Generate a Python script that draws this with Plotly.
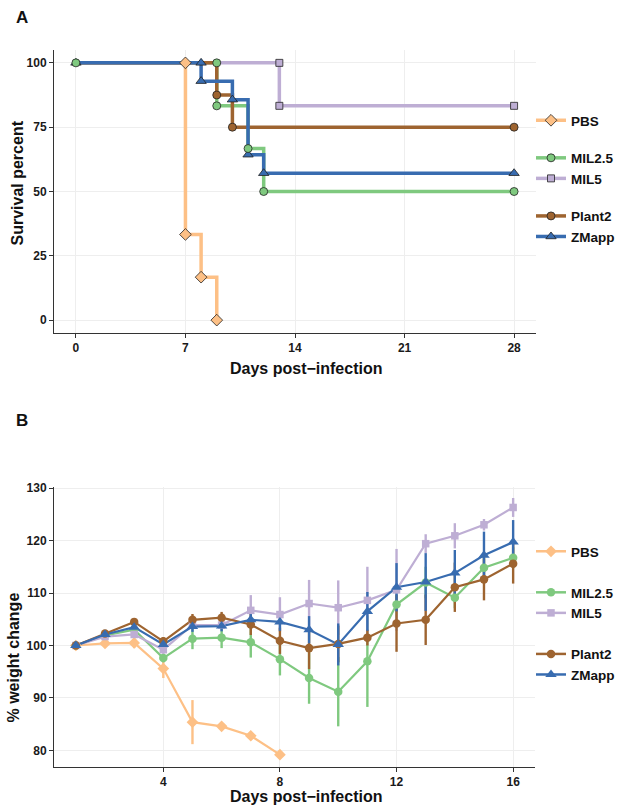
import plotly.graph_objects as go

W, H = 624, 812
def fx(px): return px / W
def fy(py): return 1 - py / H

series = ["PBS", "MIL2.5", "MIL5", "Plant2", "ZMapp"]
colors = {"PBS": "#FDC086", "MIL2.5": "#7FC97F", "MIL5": "#BEAED4", "Plant2": "#9E6430", "ZMapp": "#386CB0"}
symbols = {"PBS": "diamond", "MIL2.5": "circle", "MIL5": "square", "Plant2": "circle", "ZMapp": "triangle-up"}
groups = {"PBS": "g1", "MIL2.5": "g2", "MIL5": "g2", "Plant2": "g3", "ZMapp": "g3"}

# ---- Panel A: survival (step data) ----
surv_time = {
    "PBS":    [0, 7, 8, 9],
    "MIL2.5": [0, 9, 11, 12, 28],
    "MIL5":   [0, 13, 28],
    "Plant2": [0, 9, 10, 28],
    "ZMapp":  [0, 8, 10, 11, 12, 28],
}
surv_pct = {
    "PBS":    [100, 33.3, 16.7, 0],
    "MIL2.5": [100, 83.3, 66.7, 50, 50],
    "MIL5":   [100, 83.3, 83.3],
    "Plant2": [100, 87.5, 75, 75],
    "ZMapp":  [100, 92.9, 85.7, 64.3, 57.1, 57.1],
}
# plotted symbols on survival curves
surv_pt_time = {
    "PBS":    [7, 7, 8, 9],
    "MIL2.5": [0, 9, 9, 11, 12, 28],
    "MIL5":   [13, 13, 28],
    "Plant2": [9, 10, 28],
    "ZMapp":  [0, 8, 8, 10, 11, 12, 28],
}
surv_pt_pct = {
    "PBS":    [100, 33.3, 16.7, 0],
    "MIL2.5": [100, 100, 83.3, 66.7, 50, 50],
    "MIL5":   [100, 83.3, 83.3],
    "Plant2": [87.5, 75, 75],
    "ZMapp":  [100, 100, 92.9, 85.7, 64.3, 57.1, 57.1],
}

# ---- Panel B: weight change ----
days = list(range(1, 17))
weight = {
    "PBS":    [100, 100.4, 100.5, 95.6, 85.4, 84.6, 82.8, 79.2],
    "MIL2.5": [100, 101.9, 103.0, 97.6, 101.3, 101.5, 100.6, 97.4, 93.8, 91.2, 97.0, 107.8, 112.0, 109.1, 114.8, 116.7],
    "MIL5":   [100, 101.7, 102.1, 99.2, 103.9, 103.9, 106.7, 105.9, 108.0, 107.2, 108.6, 110.6, 119.4, 120.9, 123.0, 126.3],
    "Plant2": [100, 102.3, 104.5, 100.8, 104.9, 105.3, 104.0, 100.9, 99.5, 100.3, 101.5, 104.2, 104.9, 111.1, 112.6, 115.6],
    "ZMapp":  [100, 102.1, 103.5, 100.2, 103.6, 103.7, 104.9, 104.5, 103.0, 100.2, 106.5, 111.1, 112.1, 113.8, 117.2, 119.7],
}
weight_err = {
    "PBS":    [0.3, 0.5, 1.0, 1.8, 4.2, 0.5, 0.6, 0.3],
    "MIL2.5": [0.3, 0.5, 0.8, 0.8, 2.0, 2.0, 2.9, 3.1, 4.9, 6.6, 8.7, 3.0, 3.0, 2.0, 2.0, 2.0],
    "MIL5":   [0.3, 0.5, 0.5, 0.8, 0.8, 0.8, 2.9, 3.3, 4.5, 5.2, 6.4, 7.8, 1.8, 2.4, 1.1, 1.8],
    "Plant2": [0.3, 0.5, 0.6, 0.8, 1.1, 1.1, 2.0, 2.5, 4.0, 3.5, 1.5, 5.4, 4.8, 4.7, 4.0, 3.8],
    "ZMapp":  [0.3, 0.5, 0.8, 0.8, 1.0, 1.0, 1.5, 1.7, 2.6, 4.0, 3.7, 4.6, 5.5, 4.4, 4.5, 4.2],
}

sizesA = {"PBS": 9, "MIL2.5": 8, "MIL5": 7, "Plant2": 8, "ZMapp": 9}
sizesB = {"PBS": 9, "MIL2.5": 8.5, "MIL5": 7.5, "Plant2": 8.5, "ZMapp": 10}

fig = go.Figure()

# Panel A lines
for s in series:
    fig.add_trace(go.Scatter(x=surv_time[s], y=surv_pct[s], mode="lines", line=dict(color=colors[s], width=3.5, shape="hv"),
                             xaxis="x", yaxis="y", showlegend=False, hoverinfo="skip"))
# Panel A markers
for s in ["PBS", "MIL5", "Plant2", "ZMapp", "MIL2.5"]:
    fig.add_trace(go.Scatter(x=surv_pt_time[s], y=surv_pt_pct[s], mode="markers",
                             marker=dict(color=colors[s], symbol=symbols[s], size=sizesA[s], line=dict(color="#222", width=0.8)),
                             xaxis="x", yaxis="y", showlegend=False))
# Panel A legend entries
for s in series:
    fig.add_trace(go.Scatter(x=[None], y=[None], mode="lines+markers", name=s, legendgroup="a" + groups[s],
                             line=dict(color=colors[s], width=3.5),
                             marker=dict(color=colors[s], symbol=symbols[s], size=sizesA[s], line=dict(color="#222", width=0.8)),
                             xaxis="x", yaxis="y", legend="legend"))

# Panel B error bars
for s in series:
    n = len(weight[s])
    fig.add_trace(go.Scatter(x=days[:n], y=weight[s], mode="markers", marker=dict(size=1, opacity=0, color=colors[s]),
                             error_y=dict(type="data", array=weight_err[s], color=colors[s], thickness=2.4, width=0),
                             xaxis="x2", yaxis="y2", showlegend=False, hoverinfo="skip"))
# Panel B lines
for s in series:
    n = len(weight[s])
    fig.add_trace(go.Scatter(x=days[:n], y=weight[s], mode="lines", line=dict(color=colors[s], width=2.2),
                             xaxis="x2", yaxis="y2", showlegend=False, hoverinfo="skip"))
# Panel B markers
for s in series:
    n = len(weight[s])
    fig.add_trace(go.Scatter(x=days[:n], y=weight[s], mode="markers",
                             marker=dict(color=colors[s], symbol=symbols[s], size=sizesB[s]),
                             xaxis="x2", yaxis="y2", showlegend=False))
# Panel B legend entries
for s in series:
    fig.add_trace(go.Scatter(x=[None], y=[None], mode="lines+markers", name=s, legendgroup="b" + groups[s],
                             line=dict(color=colors[s], width=2.5),
                             marker=dict(color=colors[s], symbol=symbols[s], size=sizesB[s]),
                             xaxis="x2", yaxis="y2", legend="legend2"))

tickfont = dict(family="Liberation Sans", size=12, color="#1a1a1a", weight="bold")
axis_common = dict(showline=True, linecolor="#333333", linewidth=1, ticks="outside", ticklen=4, tickcolor="#333333",
                   tickwidth=1, showgrid=True, gridcolor="#EEEEEE", gridwidth=0.6, zeroline=False, tickfont=tickfont,
                   automargin=False, fixedrange=True)

legend_common = dict(font=dict(family="Liberation Sans", size=13.5, color="#111", weight="bold"),
                     bgcolor="rgba(0,0,0,0)", traceorder="grouped", xanchor="left", yanchor="top", itemwidth=30)

fig.update_layout(
    width=W, height=H, margin=dict(l=0, r=0, t=0, b=0),
    paper_bgcolor="white", plot_bgcolor="white",
    xaxis=dict(domain=[fx(54), fx(536)], range=[-1.4, 29.4], tickvals=[0, 7, 14, 21, 28], anchor="y", **axis_common),
    yaxis=dict(domain=[fy(333), fy(50)], range=[-5, 105], tickvals=[0, 25, 50, 75, 100], anchor="x", **axis_common),
    xaxis2=dict(domain=[fx(54), fx(535)], range=[0.25, 16.75], tickvals=[4, 8, 12, 16], anchor="y2", **axis_common),
    yaxis2=dict(domain=[fy(767), fy(487)], range=[76.85, 130.2], tickvals=[80, 90, 100, 110, 120, 130], anchor="x2", **axis_common),
    legend=dict(x=fx(531), y=fy(105), tracegroupgap=17, **legend_common),
    legend2=dict(x=fx(531), y=fy(536), tracegroupgap=20.5, **legend_common),
    showlegend=True,
)

title_font = dict(family="Liberation Sans", size=16, color="#111", weight="bold")
annots = [
    dict(text="A", x=fx(22), y=fy(17), font=dict(family="Liberation Sans", size=17, color="#111", weight="bold")),
    dict(text="B", x=fx(22), y=fy(420), font=dict(family="Liberation Sans", size=17, color="#111", weight="bold")),
    dict(text="Survival percent", x=fx(16.5), y=fy(183), textangle=-90, font=title_font),
    dict(text="% weight change", x=fx(12.5), y=fy(658), textangle=-90, font=title_font),
    dict(text="Days post\u2212infection", x=fx(306), y=fy(369), font=title_font),
    dict(text="Days post\u2212infection", x=fx(306), y=fy(796), font=title_font),
]
for a in annots:
    fig.add_annotation(xref="paper", yref="paper", xanchor="center", yanchor="middle", showarrow=False, **a)

fig.write_html("out.html", config={"displayModeBar": False},
               post_script="document.body.style.margin='0';document.body.style.padding='0';")
